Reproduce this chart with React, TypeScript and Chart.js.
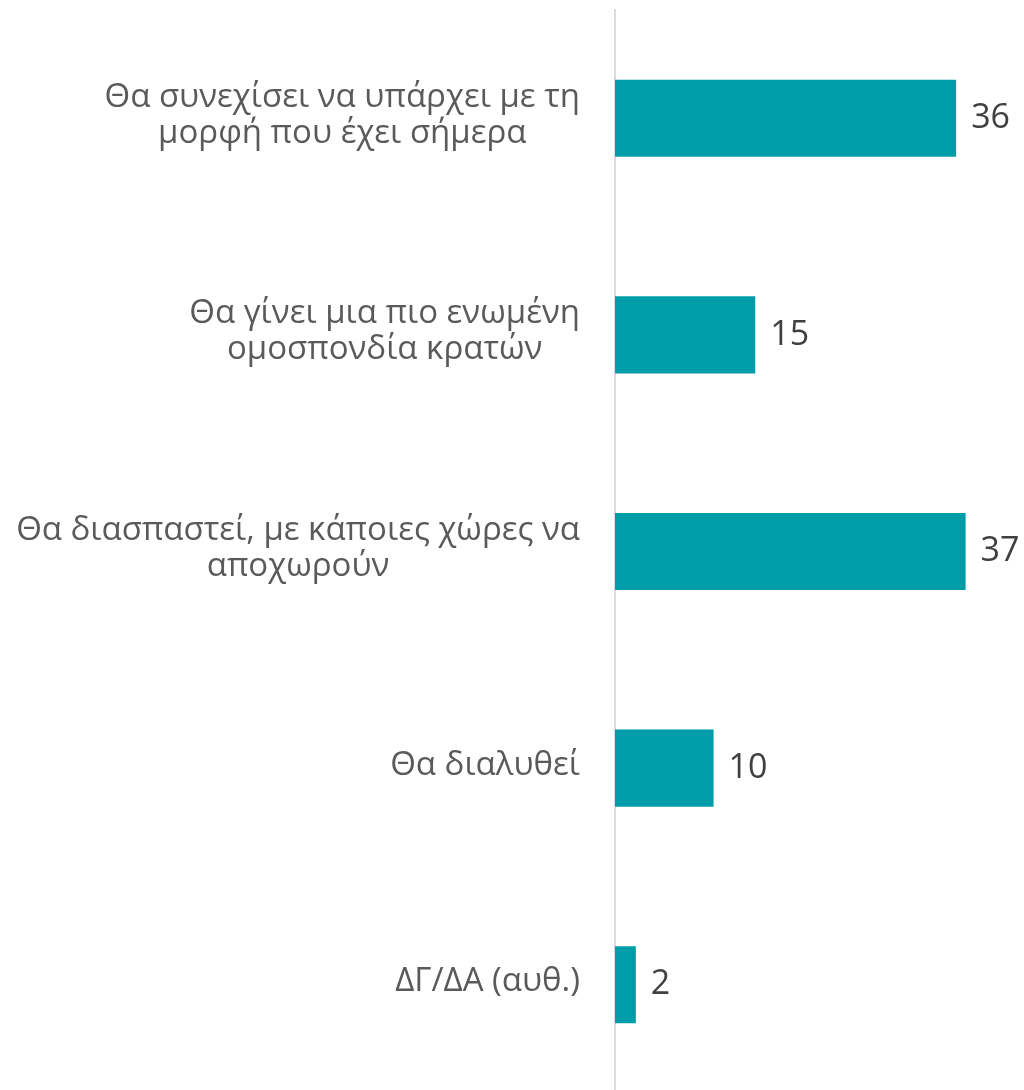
import React, { useEffect, useRef } from "react";
import { Chart, registerables } from "chart.js";

Chart.register(...registerables);

const categories: string[][] = [
  ["Θα συνεχίσει να υπάρχει με τη", "μορφή που έχει σήμερα"],
  ["Θα γίνει μια πιο ενωμένη", "ομοσπονδία κρατών"],
  ["Θα διασπαστεί, με κάποιες χώρες να", "αποχωρούν"],
  ["Θα διαλυθεί"],
  ["ΔΓ/ΔΑ (αυθ.)"],
];
const values: number[] = [36, 14.8, 37, 10.4, 2.2];
const valueLabels: string[] = ["36", "15", "37", "10", "2"];

const FONT = "'Open Sans', Lato, sans-serif";

const labelPlugin = {
  id: "customLabels",
  afterDraw(chart: any) {
    const ctx = chart.ctx as CanvasRenderingContext2D;
    const yScale = chart.scales.y;
    const meta = chart.getDatasetMeta(0);
    ctx.save();
    ctx.font = `33px ${FONT}`;
    ctx.fillStyle = "#5a5a5a";
    ctx.textBaseline = "middle";
    ctx.textAlign = "center";
    const right = yScale.right - 35;
    const lh = 36;
    categories.forEach((lines, i) => {
      const cy = yScale.getPixelForValue(i);
      const w = Math.max(...lines.map((l) => ctx.measureText(l).width));
      const cx = right - w / 2;
      const start = cy - ((lines.length - 1) * lh) / 2 - 3;
      lines.forEach((l, j) => ctx.fillText(l, cx, start + j * lh));
    });
    ctx.textAlign = "left";
    ctx.fillStyle = "#404040";
    ctx.font = `34px ${FONT}`;
    meta.data.forEach((bar: any, i: number) => {
      ctx.fillText(valueLabels[i], bar.x + 15, bar.y);
    });
    ctx.restore();
  },
};

export default function App() {
  const ref = useRef<HTMLCanvasElement | null>(null);
  useEffect(() => {
    if (!ref.current) return;
    const chart = new Chart(ref.current, {
      type: "bar",
      data: {
        labels: categories,
        datasets: [
          {
            data: values,
            backgroundColor: "#009ca8",
            borderWidth: 0,
            barPercentage: 0.356,
            categoryPercentage: 1,
          },
        ],
      },
      options: {
        indexAxis: "y",
        responsive: false,
        animation: false,
        layout: { padding: { top: 10, right: 11, left: 0, bottom: 0 } },
        plugins: { legend: { display: false }, tooltip: { enabled: false } },
        scales: {
          x: {
            display: false,
            min: 0,
            max: 42,
          },
          y: {
            afterFit: (scale: any) => {
              scale.width = 615;
            },
            grid: { display: false },
            border: { display: true, color: "#dcdcdc", width: 2 },
            ticks: { display: false },
          },
        },
      },
      plugins: [labelPlugin],
    });
    return () => chart.destroy();
  }, []);
  return (
    <div style={{ position: "absolute", left: 0, top: 0, width: 1024, height: 1090, overflow: "hidden" }}>
      <canvas ref={ref} width={1024} height={1093} style={{ display: "block" }} />
    </div>
  );
}
